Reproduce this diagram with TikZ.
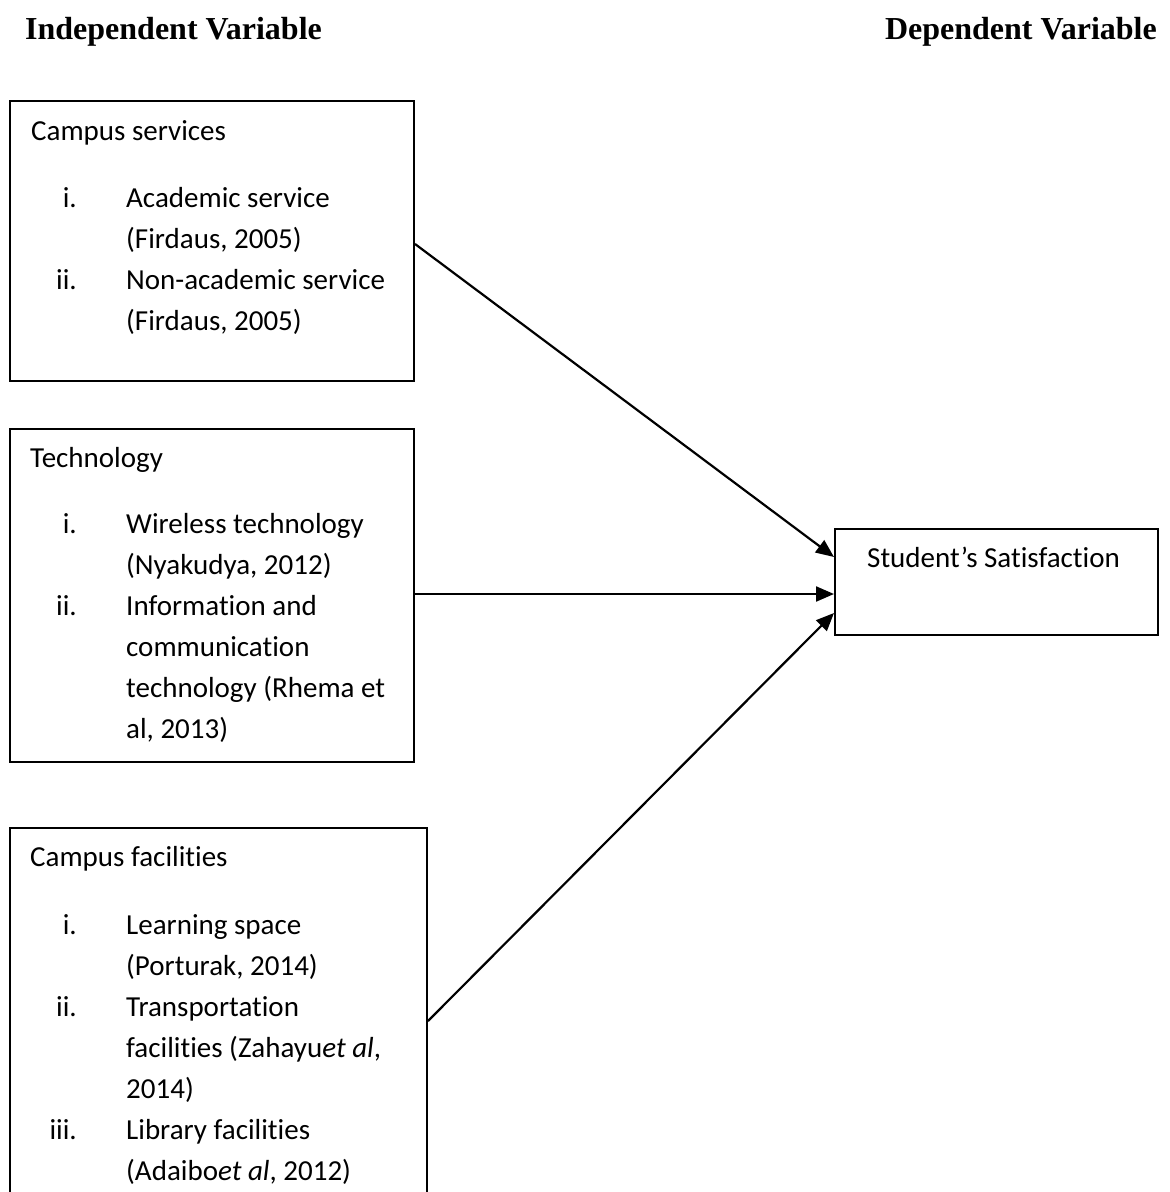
\documentclass[tikz,border=0pt]{standalone}
\usepackage{fontspec}
\setmainfont{Carlito}[Ligatures=NoCommon]
\newfontfamily\headfont{Liberation Serif}
\usetikzlibrary{arrows.meta,positioning}
\begin{document}
\begin{tikzpicture}[x=1pt,y=-1pt,
  boxst/.style={draw,line width=2pt,inner sep=0pt,anchor=north west},
  txt/.style={anchor=base west,inner sep=0pt,font=\fontsize{29}{41}\selectfont},
  num/.style={anchor=base east,inner sep=0pt,font=\fontsize{29}{41}\selectfont},
  head/.style={inner sep=0pt,font=\headfont\bfseries\fontsize{32}{38}\selectfont},
  conn/.style={line width=2.2pt,-{Triangle[length=18pt,width=15pt]}}]
\useasboundingbox (0,0) rectangle (1170,1192);
\clip (0,0) rectangle (1170,1192);
\fill[white] (0,0) rectangle (1170,1192);
% headings
\node[head,anchor=base west] (hi) at (25,39) {Independent Variable};
\node[head,anchor=base east] (hd) at (1157,39) {Dependent Variable};
% boxes
\node[boxst,minimum width=404pt,minimum height=280pt] (b1) at (9,100) {};
\node[boxst,minimum width=404pt,minimum height=333pt] (b2) at (9,428) {};
\node[boxst,minimum width=417pt,minimum height=386pt] (b3) at (9,827) {};
\node[boxst,minimum width=323pt,minimum height=106pt] (ss) at (834,528) {};
% box 1 text
\node[txt] (t1) at (31,140) {Campus services};
\node[num] (n11) at (77,207) {i.};
\node[txt] (t11) at (126,207) {Academic service};
\node[txt] (t12) at (126,248) {(Firdaus, 2005)};
\node[num] (n12) at (77,289) {ii.};
\node[txt] (t13) at (126,289) {Non-academic service};
\node[txt] (t14) at (126,330) {(Firdaus, 2005)};
% box 2 text
\node[txt] (t2) at (30,467) {Technology};
\node[num] (n21) at (77,533) {i.};
\node[txt] (t21) at (126,533) {Wireless technology};
\node[txt] (t22) at (126,574) {(Nyakudya, 2012)};
\node[num] (n22) at (77,615) {ii.};
\node[txt] (t23) at (126,615) {Information and};
\node[txt] (t24) at (126,656) {communication};
\node[txt] (t25) at (126,697) {technology (Rhema et};
\node[txt] (t26) at (126,738) {al, 2013)};
% box 3 text
\node[txt] (t3) at (30,866) {Campus facilities};
\node[num] (n31) at (77,934) {i.};
\node[txt] (t31) at (126,934) {Learning space};
\node[txt] (t32) at (126,975) {(Porturak, 2014)};
\node[num] (n32) at (77,1016) {ii.};
\node[txt] (t33) at (126,1016) {Transportation};
\node[txt] (t34) at (126,1057) {facilities (Zahayu\textit{et al},};
\node[txt] (t35) at (126,1098) {2014)};
\node[num] (n33) at (77,1139) {iii.};
\node[txt] (t36) at (126,1139) {Library facilities};
\node[txt] (t37) at (126,1180) {(Adaibo\textit{et al}, 2012)};
% target text
\node[txt] (ts) at (867,567) {Student’s Satisfaction};
% connector ends (yshift is upward in canvas units)
\coordinate (e1) at ([yshift=25pt]ss.west);
\coordinate (e2) at ([yshift=-12pt]ss.west);
\coordinate (e3) at ([yshift=-31pt]ss.west);
\coordinate (s1) at ([yshift=-3pt]b1.east);
\coordinate (s2) at (b2.east |- e2);
\draw[conn] (s1) -- (e1);
\draw[conn] (s2) -- (e2);
\draw[conn] (b3.east) -- (e3);
\end{tikzpicture}
\end{document}
